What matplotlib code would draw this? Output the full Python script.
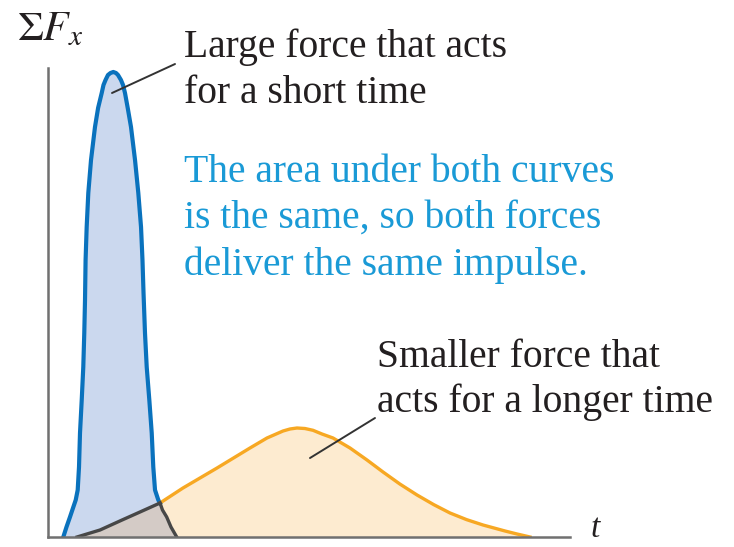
import matplotlib.pyplot as plt

plt.rcParams['font.family'] = ['Liberation Serif', 'DejaVu Serif']
plt.rcParams['mathtext.fontset'] = 'stix'

# short, strong push (time and force in arbitrary units, axis runs 0..100)
short_t = [2.93, 3.54, 4.21, 4.79, 5.31, 5.69, 5.94, 6.13, 6.46, 6.76,
           6.95, 7.09, 7.20, 7.41, 7.72, 8.24, 9.00, 9.60, 10.29, 10.63,
           11.02, 11.49, 11.97, 12.51, 13.03, 13.41, 13.98, 14.37, 14.75, 15.30,
           15.90, 16.67, 17.30, 17.82, 18.10, 18.30, 18.58, 18.91, 19.41, 19.87,
           20.17, 20.50, 21.13, 21.46, 21.93, 22.74, 23.56, 24.66]
short_f = [0, 2.13, 4.26, 6.18, 7.89, 10.02, 14.93, 22.17, 29.21, 36.25,
           43.50, 50.53, 59.06, 66.10, 73.35, 80.38, 87.42, 91.50, 94.67, 96.38,
           97.44, 98.51, 98.93, 99.15, 98.93, 98.51, 97.44, 96.38, 94.67, 91.30,
           87.42, 80.38, 73.35, 66.10, 59.06, 52.03, 43.50, 36.25, 29.21, 22.17,
           14.93, 10.02, 7.89, 7.25, 5.76, 4.26, 2.13, 0]

# weaker push spread over a longer time
long_t = [5.56, 9.96, 14.18, 17.62, 21.46, 25.86, 32.38, 38.70, 41.95, 45.02,
          46.36, 47.70, 49.23, 50.77, 52.49, 54.60, 57.85, 61.11, 64.18, 67.40,
          70.69, 73.90, 77.01, 80.20, 83.33, 87.55, 89.85, 92.34]
long_f = [0, 1.49, 3.62, 5.33, 7.25, 10.45, 14.71, 18.98, 21.11, 22.60,
          23.03, 23.24, 23.13, 22.75, 21.96, 21.11, 18.98, 16.42, 13.86, 11.30,
          8.96, 6.90, 5.12, 3.70, 2.56, 1.28, 0.64, 0]

# the two curves meet here
T_CROSS = 21.46

BLUE = '#0a72bd'
BLUE_FILL = '#cbd8ee'
ORANGE = '#f7a823'
ORANGE_FILL = '#fdebd0'
OVERLAP = '#d4cbc6'
DARK = '#474747'
AXIS = '#707070'
TEXT = '#231f20'
NOTE = '#1a9ad6'

W, H = 734, 547
fig = plt.figure(figsize=(W / 100, H / 100), dpi=100)
ax = fig.add_axes([48 / W, 10 / H, 522 / W, 469 / H])
ax.set_xlim(0, 100)
ax.set_ylim(0, 100)

ib = short_t.index(T_CROSS)
io = long_t.index(T_CROSS)

ax.fill_between(short_t, short_f, color=BLUE_FILL, lw=0)
ax.fill_between(long_t, long_f, color=ORANGE_FILL, lw=0)
# region under both curves
ov_t = long_t[:io + 1] + short_t[ib + 1:]
ov_f = long_f[:io + 1] + short_f[ib + 1:]
ax.fill_between(ov_t, ov_f, color=OVERLAP, lw=0)

ax.plot(short_t[:ib + 1], short_f[:ib + 1], color=BLUE, lw=3,
        solid_joinstyle='round')
ax.plot(long_t[io:], long_f[io:], color=ORANGE, lw=2.4,
        solid_joinstyle='round')
ax.plot(short_t[ib:], short_f[ib:], color=DARK, lw=2.4,
        solid_joinstyle='round')
ax.plot(long_t[:io + 1], long_f[:io + 1], color=DARK, lw=2.4,
        solid_joinstyle='round')

for side in ['top', 'right']:
    ax.spines[side].set_visible(False)
for side in ['left', 'bottom']:
    ax.spines[side].set_color(AXIS)
    ax.spines[side].set_linewidth(1.8)
ax.set_xticks([])
ax.set_yticks([])

# leader lines
ax.annotate('', xy=(12.26, 94.67), xytext=(24.33, 100.85),
            arrowprops=dict(arrowstyle='-', color='#333333', lw=1.4,
                            shrinkA=0, shrinkB=0),
            annotation_clip=False)
ax.annotate('', xy=(50.19, 16.84), xytext=(62.64, 25.37),
            arrowprops=dict(arrowstyle='-', color='#333333', lw=1.4,
                            shrinkA=0, shrinkB=0),
            annotation_clip=False)


def put(x, y, s, **kw):
    fig.text(x / W, 1 - y / H, s, ha='left', va='baseline', **kw)


fs = 28.5
put(184, 57, 'Large force that acts', fontsize=fs, color=TEXT)
put(184, 103, 'for a short time', fontsize=fs, color=TEXT)
put(184, 182, 'The area under both curves', fontsize=fs, color=NOTE)
put(184, 228, 'is the same, so both forces', fontsize=fs, color=NOTE)
put(184, 275, 'deliver the same impulse.', fontsize=fs, color=NOTE)
put(377, 367, 'Smaller force that', fontsize=fs, color=TEXT)
put(377, 412, 'acts for a longer time', fontsize=fs, color=TEXT)

put(17, 40, r'$\Sigma F_x$', fontsize=30, color=TEXT)
fig.text(591 / W, 1 - 544 / H, 't', ha='left', va='bottom', fontsize=24,
         style='italic', color=TEXT)

fig.savefig('out.png', dpi=100)
